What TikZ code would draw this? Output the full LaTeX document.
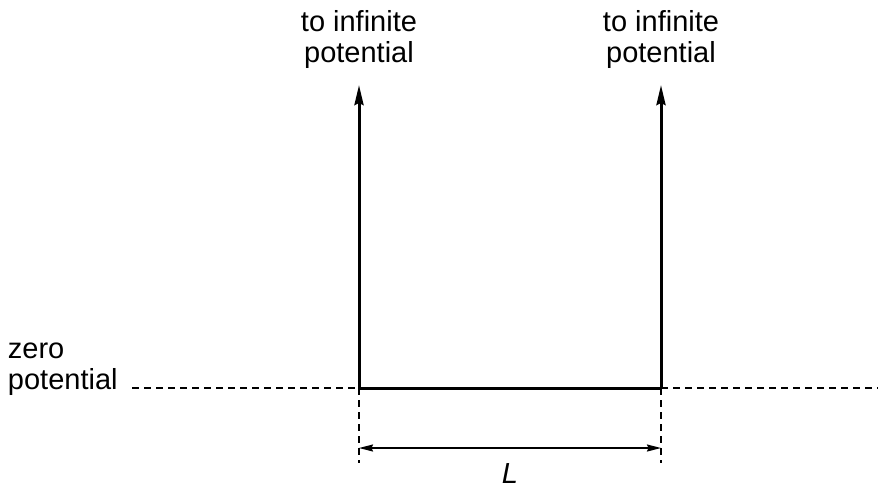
\documentclass[tikz,border=0pt]{standalone}
\usepackage{fontspec}
\setmainfont{Liberation Sans}
\usetikzlibrary{arrows.meta,positioning}
\tikzset{
  wall/.style={line width=1.5pt,-{Stealth[length=10pt,width=4.5pt,inset=1pt]}},
  flr/.style={line width=1.5pt},
  dsh/.style={line width=0.6pt,dash pattern=on 3.5pt off 2.5pt},
  dim/.style={line width=0.8pt,{Stealth[length=7pt,width=3.5pt,inset=0.8pt]}-{Stealth[length=7pt,width=3.5pt,inset=0.8pt]}},
  lbl/.style={inner sep=0pt,align=center,font=\fontsize{14.5}{15.5}\selectfont},
}
\begin{document}
\begin{tikzpicture}[x=0.5pt,y=-0.5pt]
 \useasboundingbox (0,0) rectangle (878,489);
 \coordinate (bl) at (359,388); \coordinate (br) at (661,388);
 \coordinate (tl) at (359,85); \coordinate (tr) at (661,85);
 \coordinate (el) at (132,388); \coordinate (er) at (878,388);
 \coordinate (dl) at (359,463); \coordinate (dr) at (661,463);
 \coordinate (al) at (359,448); \coordinate (ar) at (661,448);
 \draw[dsh](el)--(bl); \draw[dsh](br)--(er);
 \draw[dsh](bl)--(dl); \draw[dsh](br)--(dr);
 \draw[flr](bl)--(br);
 \draw[wall](bl)--(tl); \draw[wall](br)--(tr);
 \draw[dim](al)--(ar) node[lbl,midway,below=7.5pt] (len){\textit{L}};
 \node[lbl,above=8pt of tl] (ltxt){to infinite\\potential};
 \node[lbl,above=8pt of tr] (rtxt){to infinite\\potential};
 \node[lbl,align=left,anchor=south east] (ztxt) at ([xshift=-7pt,yshift=-4pt]el){zero\\potential};
\end{tikzpicture}
\end{document}
